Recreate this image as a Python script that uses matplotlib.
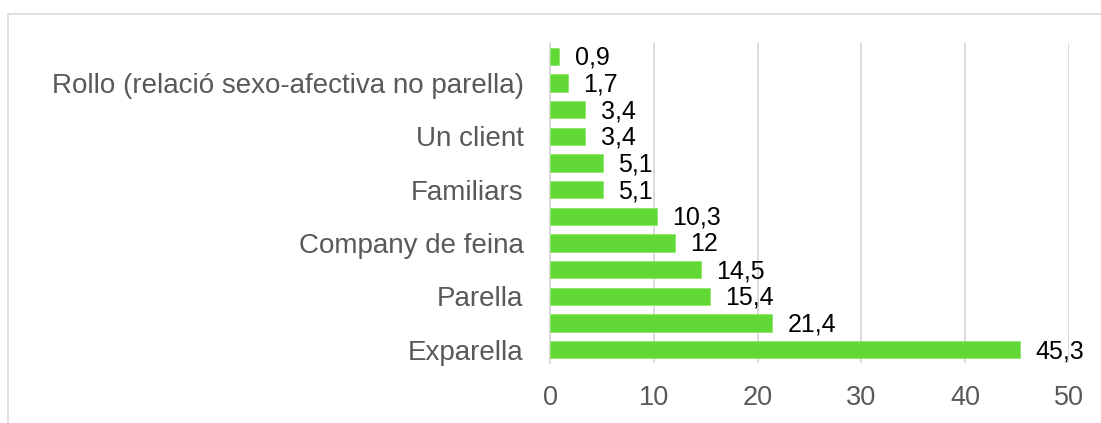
import numpy as np
import matplotlib
matplotlib.use('Agg')
import matplotlib.pyplot as plt
from matplotlib.patches import Rectangle

plt.rcParams['font.family'] = ['Liberation Sans', 'DejaVu Sans']

# bottom-up order; Excel only shows every other category name
categories = ['Exparella', '', 'Parella', '', 'Company de feina', '',
              'Familiars', '', 'Un client', '',
              'Rollo (relació sexo-afectiva no parella)', '']
values = [45.3, 21.4, 15.4, 14.5, 12, 10.3, 5.1, 5.1, 3.4, 3.4, 1.7, 0.9]
xticks = [0, 10, 20, 30, 40, 50]

W, H = 1101, 423
fig = plt.figure(figsize=(W / 100, H / 100), dpi=100)
ax = fig.add_axes([550 / W, 1 - 363 / H, 519 / W, 320 / H])

# chart frame (only top/left edges visible in the crop)
fig.patches.append(Rectangle((8 / W, -0.1), 1.2, 1 - 14 / H + 0.1,
                             transform=fig.transFigure, fill=False,
                             edgecolor='#d9d9d9', linewidth=1.2))

y = np.arange(len(values))
ax.barh(y, values, height=0.66, color='#62d836', edgecolor='#8ee86a',
        linewidth=0.6, zorder=3)

for yi, v in zip(y, values):
    txt = f'{v:g}'.replace('.', ',')
    ax.annotate(txt, (v, yi), xytext=(11, -1), textcoords='offset points',
                ha='left', va='center', fontsize=18, color='black')

ax.set_xlim(0, 50)
ax.set_ylim(-0.5, len(values) - 0.5)
ax.set_xticks(xticks)
ax.set_yticks(y)
ax.set_yticklabels(categories)
ax.grid(axis='x', color='#d9d9d9', linewidth=1.3, zorder=0)
ax.tick_params(axis='both', length=0, labelcolor='#595959')
ax.tick_params(axis='x', pad=16, labelsize=19.5)
ax.tick_params(axis='y', pad=19, labelsize=20)

for s in ['top', 'right', 'bottom']:
    ax.spines[s].set_visible(False)
ax.spines['left'].set_color('#d9d9d9')
ax.spines['left'].set_linewidth(1.3)

fig.savefig('out.png', dpi=100)
